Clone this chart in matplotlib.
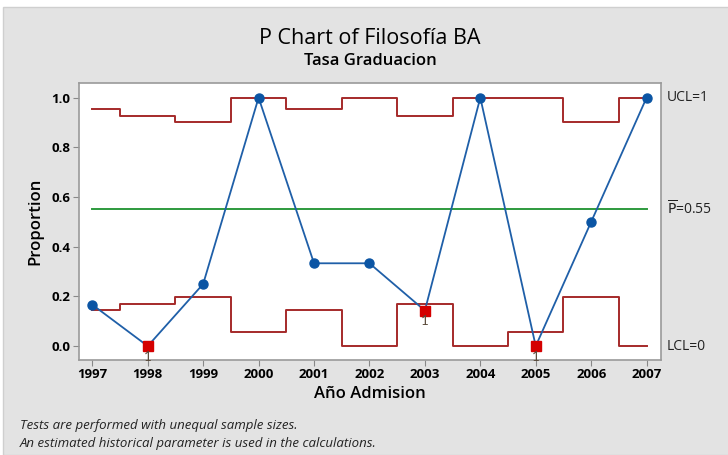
import matplotlib
matplotlib.use("Agg")
import matplotlib.pyplot as plt
from matplotlib.patches import Rectangle

years = [1997, 1998, 1999, 2000, 2001, 2002, 2003, 2004, 2005, 2006, 2007]
proportion = [0.1667, 0.0, 0.25, 1.0, 0.3333, 0.3333, 0.1429, 1.0, 0.0, 0.5, 1.0]
ucl = [0.953, 0.928, 0.902, 1.0, 0.953, 1.0, 0.928, 1.0, 1.0, 0.902, 1.0]
lcl = [0.146, 0.171, 0.197, 0.055, 0.146, 0.0, 0.171, 0.0, 0.055, 0.197, 0.0]
p_bar = 0.55
out_of_control = [1998, 2003, 2005]
ytick_vals = [0.0, 0.2, 0.4, 0.6, 0.8, 1.0]

plt.rcParams['font.family'] = ['Open Sans', 'DejaVu Sans']

W, H = 728, 455
fig = plt.figure(figsize=(W / 100, H / 100), dpi=100)
fig.patch.set_facecolor('white')
bg = Rectangle((3 / W, 0), 1, 1 - 7 / H, transform=fig.transFigure,
               facecolor='#e3e3e3', edgecolor='#cfcfcf', lw=1, zorder=-10)
fig.patches.append(bg)

L, R, T, B = 79, 661, 83, 360
ax = fig.add_axes([L / W, 1 - B / H, (R - L) / W, (B - T) / H])
ax.set_facecolor('white')
ax.set_xlim(1996.76, 2007.26)
ax.set_ylim(-0.056, 1.059)

# step control limits
edges = [years[0]] + [y + 0.5 for y in years[:-1]] + [years[-1]]
xs, us, ls = [], [], []
for i in range(len(years)):
    xs += [edges[i], edges[i + 1]]
    us += [ucl[i], ucl[i]]
    ls += [lcl[i], lcl[i]]
lim_color = '#a52a2a'
ax.plot(xs, us, color=lim_color, lw=1.4, zorder=2)
ax.plot(xs, ls, color=lim_color, lw=1.4, zorder=2)
ax.plot([years[0], years[-1]], [p_bar, p_bar], color='#2e9a3e', lw=1.4, zorder=2)

ax.plot(years, proportion, color='#1f5fa8', lw=1.3, marker='o', ms=6.5,
        markerfacecolor='#0b55a4', markeredgecolor='#0b55a4', zorder=3)
for yr, p in zip(years, proportion):
    if yr in out_of_control:
        ax.plot([yr], [p], marker='s', ms=7, color='#d40000', zorder=4, ls='none')
        ax.text(yr, p - 0.018, '1', ha='center', va='top', fontsize=9.5, color='#5a4a3a', zorder=5,
                family=['Lato', 'DejaVu Sans'])

ax.set_xticks(years)
ax.set_xticklabels([str(y) for y in years], fontsize=9.5, fontweight='bold')
ax.set_yticks(ytick_vals)
ax.set_yticklabels([f'{v:.1f}' for v in ytick_vals], fontsize=9.5, fontweight='bold')
ax.tick_params(length=4, width=0.8, color='#888888', pad=2)
for s in ax.spines.values():
    s.set_color('#9a9a9a')
    s.set_linewidth(1.2)

ax.set_ylabel('Proportion', fontsize=12, fontweight='semibold', labelpad=6)
ax.set_xlabel('Año Admision', fontsize=12, fontweight='semibold', labelpad=3)

tr = ax.get_yaxis_transform()
ax.text(1.01, ucl[-1], 'UCL=1', transform=tr, va='center', ha='left', fontsize=10, color='#222222')
ax.text(1.01, p_bar, r'$\overline{\mathrm{P}}$=0.55', transform=tr, va='center', ha='left', fontsize=10, color='#222222')
ax.text(1.01, 0.0, 'LCL=0', transform=tr, va='center', ha='left', fontsize=10, color='#222222')

fig.text(370 / W, 1 - 39 / H, 'P Chart of Filosofía BA', ha='center', va='center', fontsize=15.5)
fig.text(370 / W, 1 - 61 / H, 'Tasa Graduacion', ha='center', va='center', fontsize=12, fontweight='semibold')

fig.text(20 / W, 1 - 425 / H, 'Tests are performed with unequal sample sizes.', ha='left', va='center',
         fontsize=9.5, style='italic', color='#222222')
fig.text(20 / W, 1 - 444 / H, 'An estimated historical parameter is used in the calculations.', ha='left', va='center',
         fontsize=9.5, style='italic', color='#222222')

fig.savefig('out.png', dpi=100, facecolor=fig.get_facecolor())
